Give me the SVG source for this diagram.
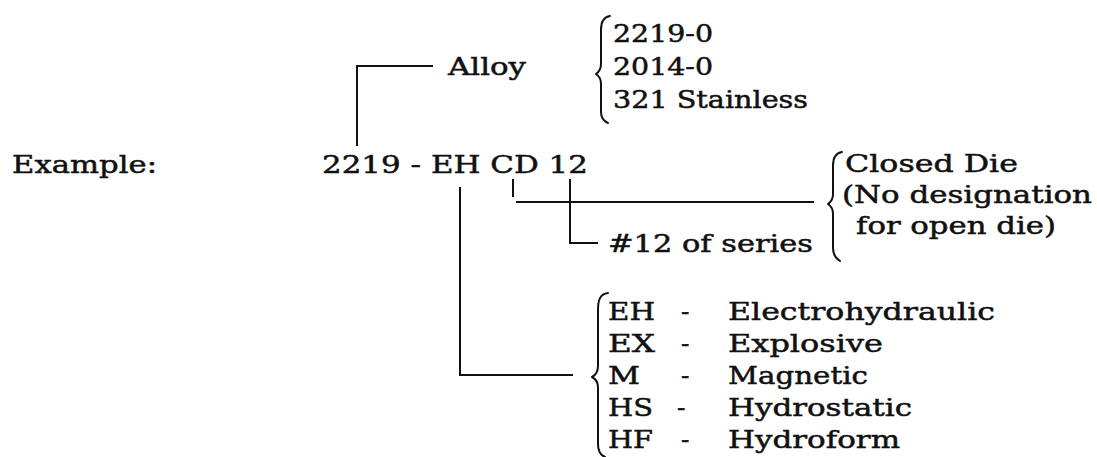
<svg xmlns="http://www.w3.org/2000/svg" width="1097" height="457" viewBox="0 0 1097 457">
<style>
text{font-family:"DejaVu Serif","Liberation Serif",serif;font-size:25px;fill:#111;stroke:#111;stroke-width:0.5}
.ln{fill:none;stroke:#111;stroke-width:2;stroke-linecap:square}
.br{fill:none;stroke:#111;stroke-width:2;stroke-linecap:round;stroke-linejoin:round}
</style>
<rect width="1097" height="457" fill="#fff"/>
<g id="connectors">
<path class="ln" d="M357,145 L357,66 L432,66"/>
<path class="ln" d="M513,180 L513,196"/>
<path class="ln" d="M517,202 L813,202"/>
<path class="ln" d="M570,180 L570,243 L597,243"/>
<path class="ln" d="M460,188 L460,375 L572,375"/>
</g>
<g id="example"><text x="12" y="173" textLength="145" lengthAdjust="spacingAndGlyphs">Example:</text></g>
<g id="code"><text x="322" y="173" textLength="266" lengthAdjust="spacingAndGlyphs">2219 - EH CD 12</text></g>
<g id="alloy"><text x="448" y="75" textLength="78" lengthAdjust="spacingAndGlyphs">Alloy</text></g>
<g id="alloy-list">
<path class="br" d="M610,16 C603,17 601,22 601,30 L601,64 C601,69 599,72 596,74 C599,76 601,79 601,84 L601,112 C601,118 603,121 608,123"/>
<text x="613" y="42" textLength="100" lengthAdjust="spacingAndGlyphs">2219-0</text>
<text x="613" y="75" textLength="100" lengthAdjust="spacingAndGlyphs">2014-0</text>
<text x="613" y="108" textLength="195" lengthAdjust="spacingAndGlyphs">321 Stainless</text>
</g>
<g id="series"><text x="608" y="252" textLength="205" lengthAdjust="spacingAndGlyphs">#12 of series</text></g>
<g id="die-list">
<path class="br" d="M842,152 C835,153 833,158 833,166 L833,194 C833,199 831,202 828,204 C831,206 833,209 833,214 L833,248 C833,254 835,258 840,261"/>
<text x="845" y="172" textLength="173" lengthAdjust="spacingAndGlyphs">Closed Die</text>
<text x="842" y="203" textLength="250" lengthAdjust="spacingAndGlyphs">(No designation</text>
<text x="856" y="234" textLength="200" lengthAdjust="spacingAndGlyphs">for open die)</text>
</g>
<g id="process-list">
<path class="br" d="M608,293 C600,294 598,300 598,310 L598,366 C598,372 596,375 592,377 C596,379 598,382 598,388 L598,444 C598,451 600,455 605,457"/>
<text x="608" y="320" textLength="47" lengthAdjust="spacingAndGlyphs">EH</text><text x="681" y="320">-</text><text x="728" y="320" textLength="267" lengthAdjust="spacingAndGlyphs">Electrohydraulic</text>
<text x="608" y="352" textLength="47" lengthAdjust="spacingAndGlyphs">EX</text><text x="681" y="352">-</text><text x="728" y="352" textLength="155" lengthAdjust="spacingAndGlyphs">Explosive</text>
<text x="608" y="384" textLength="32" lengthAdjust="spacingAndGlyphs">M</text><text x="681" y="384">-</text><text x="728" y="384" textLength="140" lengthAdjust="spacingAndGlyphs">Magnetic</text>
<text x="608" y="416" textLength="45" lengthAdjust="spacingAndGlyphs">HS</text><text x="677" y="416">-</text><text x="728" y="416" textLength="184" lengthAdjust="spacingAndGlyphs">Hydrostatic</text>
<text x="608" y="448" textLength="45" lengthAdjust="spacingAndGlyphs">HF</text><text x="681" y="448">-</text><text x="728" y="448" textLength="172" lengthAdjust="spacingAndGlyphs">Hydroform</text>
</g>
</svg>
